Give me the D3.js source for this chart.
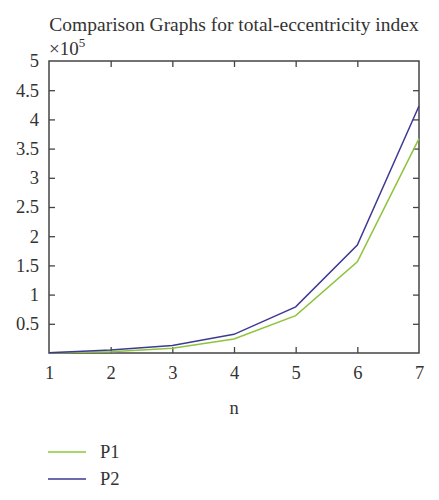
<!DOCTYPE html>
<html>
<head>
<meta charset="utf-8">
<script src="https://cdn.jsdelivr.net/npm/d3@7"></script>
<style>
  body { margin: 0; background: #fff; }
</style>
</head>
<body>
<div id="chart"></div>
<script>
// values are in units of 10^5
const nValues = [1, 2, 3, 4, 5, 6, 7];
const p1Values = [0.003, 0.02, 0.08, 0.24, 0.64, 1.56, 3.67];
const p2Values = [0.005, 0.05, 0.13, 0.32, 0.79, 1.85, 4.23];
const yTicks = [0.5, 1, 1.5, 2, 2.5, 3, 3.5, 4, 4.5, 5];
const seriesNames = ["P1", "P2"];

const svgWidth = 439;
const svgHeight = 500;
const margin = { top: 61, right: 20, bottom: 147, left: 49 };
const width = svgWidth - margin.left - margin.right;
const height = svgHeight - margin.top - margin.bottom;

const font = "'Liberation Serif', 'Times New Roman', Times, serif";
const textColor = "#333";
const colors = { P1: "#8cc43c", P2: "#3d3a94" };
const axisColor = "#444";

const svg = d3
  .select("#chart")
  .append("svg")
  .attr("width", svgWidth)
  .attr("height", svgHeight)
  .style("font-family", font);

const g = svg
  .append("g")
  .attr("transform", "translate(" + margin.left + "," + margin.top + ")");

const xScale = d3.scaleLinear().domain([1, 7]).range([0, width]);
const yScale = d3.scaleLinear().domain([0, 5]).range([height, 0]);

// title
svg
  .append("text")
  .attr("x", margin.left + width / 2)
  .attr("y", 31)
  .attr("text-anchor", "middle")
  .attr("font-family", font)
  .attr("fill", textColor)
  .attr("font-size", 19.5)
  .text("Comparison Graphs for total-eccentricity index");

// exponent label
const expLabel = svg
  .append("text")
  .attr("x", margin.left)
  .attr("y", 55)
  .attr("font-family", font)
  .attr("fill", textColor)
  .attr("font-size", 19);
expLabel.append("tspan").text("×10");
expLabel.append("tspan").attr("dy", -8).attr("font-size", 13).text("5");

// axes with inward ticks on all four sides
const xAxis = d3.axisBottom(xScale).tickValues(nValues).tickSize(-6).tickPadding(13).tickFormat(d3.format("d"));
const xAxisG = g.append("g").attr("transform", "translate(0," + height + ")").call(xAxis);
const yAxis = d3.axisLeft(yScale).tickValues(yTicks).tickSize(-6).tickPadding(10).tickFormat((d) => d);
const yAxisG = g.append("g").call(yAxis);
const topAxisG = g.append("g").call(d3.axisTop(xScale).tickValues(nValues.slice(1, -1)).tickSize(-6).tickFormat(""));
const rightAxisG = g
  .append("g")
  .attr("transform", "translate(" + width + ",0)")
  .call(d3.axisRight(yScale).tickValues(yTicks.slice(0, -1)).tickSize(-6).tickFormat(""));

[xAxisG, yAxisG, topAxisG, rightAxisG].forEach((a) => {
  a.attr("font-family", font).attr("font-size", 18.5);
  a.select(".domain").remove();
  a.selectAll(".tick line").attr("stroke", axisColor).attr("stroke-width", 1.3);
  a.selectAll(".tick text").attr("fill", textColor);
});
// hide edge ticks that overlap the frame
xAxisG.selectAll(".tick line").filter((d) => d === 1 || d === 7).remove();
yAxisG.selectAll(".tick line").filter((d) => d === 5).remove();

// frame
g.append("rect")
  .attr("width", width)
  .attr("height", height)
  .attr("fill", "none")
  .attr("stroke", axisColor)
  .attr("stroke-width", 1.5);

const line = d3
  .line()
  .x((d, i) => xScale(nValues[i]))
  .y((d) => yScale(d));

[p1Values, p2Values].forEach((vals, i) => {
  g.append("path")
    .datum(vals)
    .attr("fill", "none")
    .attr("stroke", colors[seriesNames[i]])
    .attr("stroke-width", 1.5)
    .attr("d", line);
});

// x label
svg
  .append("text")
  .attr("x", margin.left + width / 2)
  .attr("y", 414)
  .attr("text-anchor", "middle")
  .attr("font-family", font)
  .attr("fill", textColor)
  .attr("font-size", 18.5)
  .text("n");

// legend
seriesNames.forEach((name, i) => {
  const y = 452 + i * 27;
  svg
    .append("line")
    .attr("x1", 48)
    .attr("x2", 86)
    .attr("y1", y)
    .attr("y2", y)
    .attr("stroke", colors[name])
    .attr("stroke-width", 1.5);
  svg
    .append("text")
    .attr("x", 100)
    .attr("y", y + 6)
    .attr("font-family", font)
    .attr("fill", textColor)
    .attr("font-size", 18.5)
    .text(name);
});
</script>
</body>
</html>
